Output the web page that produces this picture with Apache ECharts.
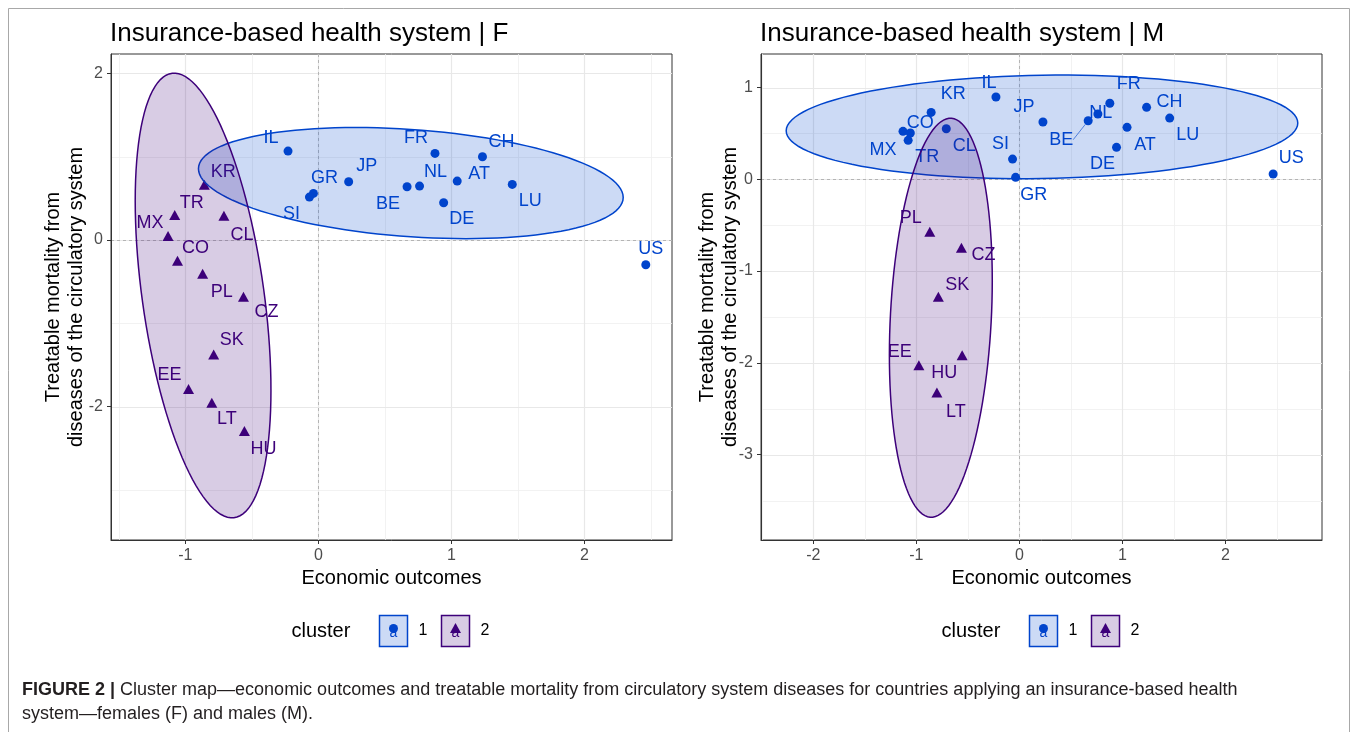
<!DOCTYPE html>
<html>
<head>
<meta charset="utf-8">
<script src="https://cdn.jsdelivr.net/npm/echarts@6/dist/echarts.min.js"></script>
<style>
  html, body { margin: 0; padding: 0; background: #fff; }
  #chart { width: 1357px; height: 732px; }
</style>
</head>
<body>
<div id="chart"></div>
<script>
// ---- data ---------------------------------------------------------------
const countries = ['IL','GR','SI','JP','BE','NL','FR','CH','AT','DE','LU','US',
                   'KR','TR','CL','MX','CO','PL','CZ','SK','EE','LT','HU'];
// economic outcomes score (same for both sexes)
const economicOutcomes = [-0.228,-0.037,-0.067,0.228,0.667,0.761,0.877,1.234,1.044,0.942,1.458,2.462,
                          -0.857,-1.080,-0.710,-1.130,-1.059,-0.870,-0.563,-0.787,-0.976,-0.801,-0.556];
// treatable mortality from diseases of the circulatory system
const mortalityF = [1.068,0.560,0.516,0.700,0.640,0.648,1.040,1.000,0.708,0.448,0.668,-0.296,
                    0.642,0.280,0.272,0.028,-0.270,-0.424,-0.700,-1.393,-1.809,-1.972,-2.313];
const mortalityM = [0.896,0.021,0.220,0.624,0.638,0.711,0.828,0.784,0.566,0.348,0.667,0.057,
                    0.729,0.424,0.551,0.522,0.504,-0.590,-0.765,-1.299,-2.045,-2.342,-1.936];
// cluster membership
const clusterF = [1,1,1,1,1,1,1,1,1,1,1,1, 2,2,2,2,2,2,2,2,2,2,2];
const clusterM = [1,1,1,1,1,1,1,1,1,1,1,1, 1,1,1,1,1,2,2,2,2,2,2];
const clusterLevels = ['1', '2'];
// axis tick values
const xTicksF = [-1, 0, 1, 2];
const yTicksF = [-2, 0, 2];
const xTicksM = [-2, -1, 0, 1, 2];
const yTicksM = [-3, -2, -1, 0, 1];

// ---- label placement (pixel nudges, repel-style) ------------------------
const nudgeF = {
  IL:[-17,-13], GR:[11,-15], SI:[-18,17], JP:[18,-16], BE:[-19,17], NL:[16,-14], FR:[-19,-15],
  CH:[19,-15], AT:[22,-7], DE:[18,16], LU:[18,17], US:[5,-16], KR:[19,-13], TR:[17,-12],
  MX:[-18,-13], CL:[18,19], CO:[18,-13], PL:[19,18], CZ:[23,15], SK:[18,-14], EE:[-19,-14],
  LT:[15,16], HU:[19,18]
};
const nudgeM = {
  IL:[-7,-14], KR:[22,-18], CO:[10,-10], MX:[-20,19], TR:[19,17], CL:[18,17], SI:[-12,-15],
  GR:[18,18], JP:[-19,-15], BE:[-27,19], NL:[3,-1], FR:[19,-19], CH:[23,-5], AT:[18,18],
  DE:[-14,17], LU:[18,17], US:[18,-16], PL:[-19,-14], CZ:[22,7], SK:[19,-12], EE:[-19,-13],
  HU:[-18,18], LT:[19,19]
};

// ---- styling ------------------------------------------------------------
const FONT = '"Liberation Sans", Arial, Helvetica, sans-serif';
const CAP_FONT = '"Liberation Sans", Arial, sans-serif';
const COLORS = { 1: '#0044CC', 2: '#3D007A' };
const FILLS  = { 1: 'rgba(0,68,204,0.2)', 2: 'rgba(61,0,122,0.2)' };
const PW = 561, PT = 54, PH = 486;

const panels = [
  { title: 'Insurance-based health system | F', y: mortalityF, cluster: clusterF,
    xTicks: xTicksF, yTicks: yTicksF, xRange: [-1.559, 2.659], yRange: [-3.600, 2.233],
    left: 111, nudge: nudgeF, nameGap: 23 },
  { title: 'Insurance-based health system | M', y: mortalityM, cluster: clusterM,
    xTicks: xTicksM, yTicks: yTicksM, xRange: [-2.508, 2.936], yRange: [-3.930, 1.365],
    left: 761, nudge: nudgeM, nameGap: 19 }
];

// ---- multivariate-t confidence ellipse (robust t covariance, nu = 5) ----
function tEllipse(pts, level, segments) {
  const n = pts.length, p = 2, nu = 5;
  const sum = a => a.reduce((s, v) => s + v, 0);
  let loc = [sum(pts.map(q => q[0])) / n, sum(pts.map(q => q[1])) / n];
  let w = new Array(n).fill(1);
  let X = [];
  for (let it = 0; it < 25; it++) {
    const w0 = w.slice();
    X = pts.map(q => [q[0] - loc[0], q[1] - loc[1]]);
    const sw = sum(w);
    let a = 0, b = 0, c = 0;
    X.forEach((d, i) => { a += w[i]*d[0]*d[0]/sw; b += w[i]*d[0]*d[1]/sw; c += w[i]*d[1]*d[1]/sw; });
    const det = a*c - b*b;
    w = X.map(d => (nu + p) / (nu + (c*d[0]*d[0] - 2*b*d[0]*d[1] + a*d[1]*d[1]) / det));
    const sw2 = sum(w);
    loc = [sum(pts.map((q, i) => w[i]*q[0])) / sw2, sum(pts.map((q, i) => w[i]*q[1])) / sw2];
    if (w.every((v, i) => Math.abs(v - w0[i]) < 0.01)) break;
  }
  let a = 0, b = 0, c = 0;
  X.forEach((d, i) => { a += w[i]*d[0]*d[0]; b += w[i]*d[0]*d[1]; c += w[i]*d[1]*d[1]; });
  a /= n; b /= n; c /= n;
  const r11 = Math.sqrt(a), r12 = b / r11, r22 = Math.sqrt(c - r12*r12);
  const dfd = n - 1;
  const fq = dfd / 2 * (Math.pow(1 - level, -2 / dfd) - 1);   // F(2, dfd) quantile
  const radius = Math.sqrt(2 * fq);
  const ring = [];
  for (let s = 0; s <= segments; s++) {
    const t = 2 * Math.PI * s / segments, ct = Math.cos(t), st = Math.sin(t);
    ring.push([loc[0] + radius * ct * r11, loc[1] + radius * (ct * r12 + st * r22)]);
  }
  return ring;
}

// minor gridline positions halfway between major ticks
function minorsOf(ticks, range) {
  const step = ticks[1] - ticks[0], out = [];
  for (let v = ticks[0] - step / 2; v <= ticks[ticks.length - 1] + step / 2 + 1e-9; v += step) {
    if (v >= range[0] && v <= range[1]) out.push(v);
  }
  return out;
}

function gridRenderer(p) {
  const xMinor = minorsOf(p.xTicks, p.xRange), yMinor = minorsOf(p.yTicks, p.yRange);
  return function (params, api) {
    const cs = params.coordSys, kids = [];
    const major = { stroke: '#E8E8E8', lineWidth: 1.2 };
    const minor = { stroke: '#EFEFEF', lineWidth: 0.8 };
    const zero  = { stroke: '#A6A6A6', lineWidth: 0.8, lineDash: [3, 3] };
    const v = (val, st) => { const x = Math.round(api.coord([val, 0])[0]) + 0.5;
      kids.push({ type: 'line', shape: { x1: x, y1: cs.y, x2: x, y2: cs.y + cs.height }, style: st }); };
    const h = (val, st) => { const y = Math.round(api.coord([0, val])[1]) + 0.5;
      kids.push({ type: 'line', shape: { x1: cs.x, y1: y, x2: cs.x + cs.width, y2: y }, style: st }); };
    xMinor.forEach(t => v(t, minor)); yMinor.forEach(t => h(t, minor));
    p.xTicks.forEach(t => v(t, major)); p.yTicks.forEach(t => h(t, major));
    v(0, zero); h(0, zero);
    return { type: 'group', children: kids };
  };
}

const series = [];
panels.forEach((p, i) => {
  series.push({ type: 'custom', xAxisIndex: i, yAxisIndex: i, z: 0, silent: true,
    data: [[0, 0]], renderItem: gridRenderer(p) });
  [1, 2].forEach(k => {
    const idx = countries.map((c, j) => j).filter(j => p.cluster[j] === k);
    const color = COLORS[k];
    series.push({
      type: 'scatter', xAxisIndex: i, yAxisIndex: i, z: 3,
      symbol: k === 1 ? 'circle' : 'triangle',
      symbolSize: k === 1 ? 9 : [11, 10],
      symbolOffset: k === 1 ? [0, 0] : [0, -1.7],
      itemStyle: { color: color, opacity: 1 },
      emphasis: { disabled: true },
      label: { show: true, position: 'inside', formatter: '{b}', color: color,
               fontSize: 18, fontFamily: FONT },
      data: idx.map(j => {
        const item = { name: countries[j], value: [economicOutcomes[j], p.y[j]],
                       label: { offset: p.nudge[countries[j]] } };
        if (i === 1 && countries[j] === 'BE') {
          item.labelLine = { show: true, lineStyle: { color: color, width: 0.6 } };
        }
        return item;
      })
    });
    const ring = tEllipse(idx.map(j => [economicOutcomes[j], p.y[j]]), 0.95, 120);
    series.push({
      type: 'custom', xAxisIndex: i, yAxisIndex: i, z: 5, silent: true, clip: true,
      data: [[0, 0]],
      renderItem: (params, api) => ({
        type: 'polygon',
        shape: { points: ring.map(q => api.coord(q)) },
        style: { fill: FILLS[k], stroke: color, lineWidth: 1.5 }
      })
    });
  });
});

// legend keys and caption
const graphic = [
  { type: 'rect', shape: { x: 8.5, y: 8.5, width: 1341, height: 760 },
    style: { fill: 'none', stroke: '#A8A8A8', lineWidth: 1 }, silent: true }
];
panels.forEach(p => {
  const c = p.left + PW / 2, yc = 631;
  graphic.push({ type: 'text', x: c - 100, y: yc,
    style: { text: 'cluster', font: '20px ' + FONT, fill: '#000', verticalAlign: 'middle' } });
  clusterLevels.forEach((lev, k) => {
    const bx = c - 12.5 + k * 62, color = COLORS[k + 1];
    graphic.push({ type: 'rect', shape: { x: bx + 0.5, y: 615.5, width: 28, height: 31 },
      style: { fill: FILLS[k + 1], stroke: color, lineWidth: 1.5 } });
    graphic.push({ type: 'text', x: bx + 14.5, y: 633,
      style: { text: 'a', font: '14px ' + FONT, fill: color, align: 'center', verticalAlign: 'middle' } });
    if (k === 0) {
      graphic.push({ type: 'circle', shape: { cx: bx + 14.5, cy: 628.5, r: 4.5 }, style: { fill: color } });
    } else {
      graphic.push({ type: 'polygon', shape: { points: [[bx + 14.5, 623], [bx + 20, 633], [bx + 9, 633]] },
        style: { fill: color } });
    }
    graphic.push({ type: 'text', x: bx + 44, y: yc,
      style: { text: lev, font: '16px ' + FONT, fill: '#000', align: 'center', verticalAlign: 'middle' } });
  });
});
graphic.push({
  type: 'text', x: 22, y: 678,
  style: {
    text: '{b|FIGURE 2 |} Cluster map\u2014economic outcomes and treatable mortality from circulatory system diseases for countries applying an insurance-based health\nsystem\u2014females (F) and males (M).',
    font: '18px ' + CAP_FONT, fill: '#231F20', lineHeight: 24,
    rich: { b: { fontWeight: 'bold', fontSize: 18, fontFamily: CAP_FONT, fill: '#231F20', lineHeight: 24 } }
  }
});

const option = {
  animation: false,
  backgroundColor: '#fff',
  textStyle: { fontFamily: FONT },
  title: panels.map(p => ({
    text: p.title, left: p.left - 1, top: 21, padding: 0,
    textStyle: { fontSize: 26, fontWeight: 'normal', color: '#000', fontFamily: FONT }
  })),
  grid: panels.map(p => ({
    left: p.left, top: PT, width: PW, height: PH, show: true,
    borderColor: '#333', borderWidth: 1, backgroundColor: '#fff',
    containLabel: false, outerBoundsMode: 'none'
  })),
  xAxis: panels.map((p, i) => ({
    gridIndex: i, type: 'value', min: p.xRange[0], max: p.xRange[1],
    name: 'Economic outcomes', nameLocation: 'middle', nameGap: 28, nameMoveOverlap: false,
    nameTextStyle: { fontSize: 20, color: '#000', fontFamily: FONT },
    axisLine: { show: true, onZero: false, lineStyle: { color: '#333', width: 1 } },
    axisTick: { show: true, length: 4, customValues: p.xTicks, lineStyle: { color: '#333' } },
    axisLabel: { customValues: p.xTicks, fontSize: 16, color: '#4D4D4D', margin: 8, fontFamily: FONT },
    splitLine: { show: false }
  })),
  yAxis: panels.map((p, i) => ({
    gridIndex: i, type: 'value', min: p.yRange[0], max: p.yRange[1],
    name: 'Treatable mortality from\ndiseases of the circulatory system',
    nameLocation: 'middle', nameRotate: 90, nameGap: p.nameGap, nameMoveOverlap: false,
    nameTextStyle: { fontSize: 20, lineHeight: 23, color: '#000', fontFamily: FONT },
    axisLine: { show: true, onZero: false, lineStyle: { color: '#333', width: 1 } },
    axisTick: { show: true, length: 4, customValues: p.yTicks, lineStyle: { color: '#333' } },
    axisLabel: { customValues: p.yTicks, fontSize: 16, color: '#4D4D4D', margin: 8, fontFamily: FONT },
    splitLine: { show: false }
  })),
  series: series,
  graphic: graphic
};

const chart = echarts.init(document.getElementById('chart'), null, { renderer: 'canvas' });
chart.setOption(option);
</script>
</body>
</html>
